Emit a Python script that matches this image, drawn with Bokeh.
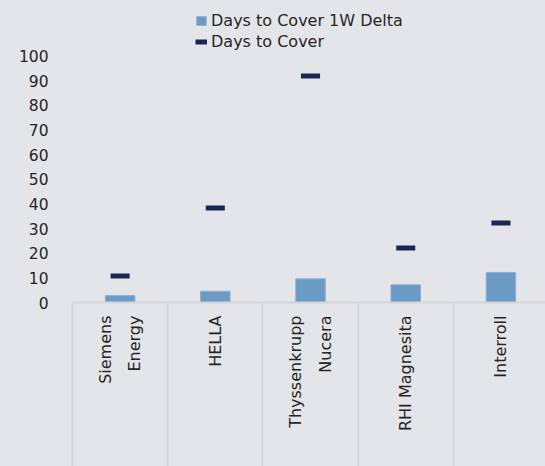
from math import pi
from bokeh.plotting import figure
from bokeh.models import (ColumnDataSource, Range1d, FixedTicker, Legend, LegendItem, LinearAxis)
from bokeh.embed import file_html
from bokeh.resources import INLINE

categories = ["Siemens\nEnergy", "HELLA", "Thyssenkrupp\nNucera", "RHI Magnesita", "Interroll"]
delta_1w = [2.8, 4.6, 9.6, 7.2, 12.2]
days_to_cover = [10.8, 38.4, 92.0, 22.1, 32.3]
y_ticks = [0, 10, 20, 30, 40, 50, 60, 70, 80, 90, 100]

BG = "#e4e5e9"
BAR = "#6b9ac5"
DASH = "#1b2654"
SEP = "#d4d5d9"
TXT = "#262626"
FONT = "DejaVu Sans"

xs = [i + 0.5 for i in range(len(categories))]
half = 0.1
src = ColumnDataSource(dict(
    x=xs, delta=delta_1w, dtc=days_to_cover,
    x0=[x - half for x in xs], x1=[x + half for x in xs],
))

p = figure(width=545, height=466, output_backend="svg", toolbar_location=None,
           x_range=Range1d(0, 4.968), y_range=Range1d(0, 122.6),
           x_axis_type=None, y_axis_type=None,
           min_border_left=72, min_border_right=0, min_border_top=0, min_border_bottom=164)
p.background_fill_color = BG
p.border_fill_color = BG
p.outline_line_color = None
p.xgrid.visible = False
p.ygrid.visible = False

yaxis = LinearAxis(ticker=FixedTicker(ticks=y_ticks))
yaxis.axis_line_color = None
yaxis.major_tick_line_color = None
yaxis.minor_tick_line_color = None
yaxis.major_label_standoff = 18
yaxis.major_label_text_font = FONT
yaxis.major_label_text_font_size = "15.5px"
yaxis.major_label_text_color = TXT
p.add_layout(yaxis, "left")

SEP_LEN = 168
xaxis = LinearAxis(ticker=FixedTicker(ticks=xs, minor_ticks=list(range(len(categories) + 1))))
xaxis.major_label_overrides = {x: c for x, c in zip(xs, categories)}
xaxis.major_label_orientation = pi / 2
xaxis.major_tick_line_color = None
xaxis.major_tick_in = 0
xaxis.major_tick_out = 0
xaxis.minor_tick_in = 0
xaxis.minor_tick_out = SEP_LEN
xaxis.minor_tick_line_color = SEP
xaxis.minor_tick_line_width = 2
xaxis.axis_line_color = SEP
xaxis.axis_line_width = 2
xaxis.major_label_standoff = 13 - SEP_LEN
xaxis.major_label_text_font = FONT
xaxis.major_label_text_font_size = "16px"
xaxis.major_label_text_line_height = 1.55
xaxis.major_label_text_color = TXT
p.add_layout(xaxis, "below")

r_bar = p.vbar(x="x", top="delta", width=0.31, bottom=0, source=src,
               fill_color=BAR, line_color="#8fb0d2", line_width=1)
r_dash = p.segment(x0="x0", x1="x1", y0="dtc", y1="dtc", source=src,
                   line_color=DASH, line_width=5, line_cap="butt")

legend = Legend(items=[LegendItem(label="Days to Cover 1W Delta", renderers=[r_bar]),
                       LegendItem(label="Days to Cover", renderers=[r_dash])],
                location=(123, 250))
legend.background_fill_alpha = 0
legend.border_line_color = None
legend.padding = 0
legend.margin = 0
legend.spacing = 0
legend.glyph_width = 12
legend.glyph_height = 11
legend.label_height = 21
legend.label_standoff = 4
legend.label_text_font = FONT
legend.label_text_font_size = "16px"
legend.label_text_color = TXT
p.add_layout(legend, "center")

html = file_html(p, INLINE)
html = html.replace("<head>", "<head><style>body{background:#e4e5e9;}</style>", 1)
open("out.html", "w").write(html)
